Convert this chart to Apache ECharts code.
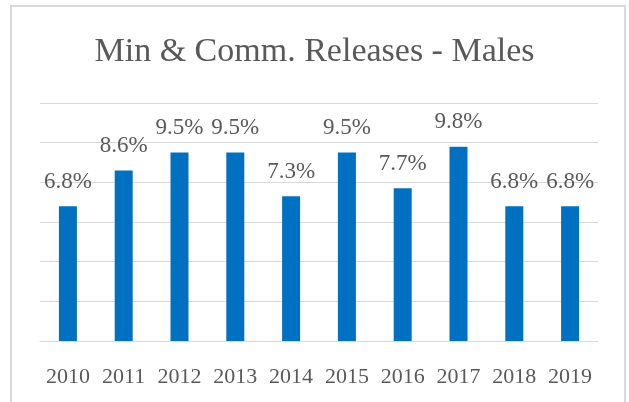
<!DOCTYPE html>
<html>
<head>
<meta charset="utf-8">
<script src="https://cdn.jsdelivr.net/npm/echarts@6/dist/echarts.min.js"></script>
<style>
  html, body { margin: 0; padding: 0; background: #fff; }
  #chart { width: 629px; height: 402px; }
</style>
</head>
<body>
<div id="chart"></div>
<script>
// data
var years = ['2010', '2011', '2012', '2013', '2014', '2015', '2016', '2017', '2018', '2019'];
var rates = [6.8, 8.6, 9.5, 9.5, 7.3, 9.5, 7.7, 9.8, 6.8, 6.8];

var textColor = '#595959';
var fontFam = '"Liberation Serif", serif';

var chart = echarts.init(document.getElementById('chart'));
chart.setOption({
  animation: false,
  graphic: [{
    // chart area border
    type: 'rect',
    shape: { x: 11, y: 6, width: 614, height: 410 },
    style: { fill: 'none', stroke: '#D9D9D9', lineWidth: 2 },
    silent: true
  }],
  title: {
    text: 'Min & Comm. Releases - Males',
    left: 'center',
    top: 30,
    textStyle: { fontFamily: fontFam, fontSize: 34, fontWeight: 'normal', color: textColor }
  },
  grid: { left: 40, right: 31, top: 103, bottom: 61 },
  xAxis: {
    type: 'category',
    data: years,
    axisTick: { show: false },
    axisLine: { lineStyle: { color: '#D9D9D9', width: 1 } },
    axisLabel: { interval: 0, margin: 25, fontFamily: fontFam, fontSize: 22, color: textColor }
  },
  yAxis: {
    type: 'value',
    min: 0,
    max: 12,
    interval: 2,
    axisLabel: { show: false },
    axisLine: { show: false },
    axisTick: { show: false },
    splitLine: { lineStyle: { color: '#D9D9D9', width: 1 } }
  },
  series: [{
    type: 'bar',
    data: rates,
    barWidth: 18,
    itemStyle: { color: '#0070C0' },
    label: {
      show: true,
      position: 'top',
      distance: 13,
      formatter: function (p) { return p.value.toFixed(1) + '%'; },
      fontFamily: fontFam,
      fontSize: 23,
      color: textColor
    }
  }]
});
</script>
</body>
</html>
